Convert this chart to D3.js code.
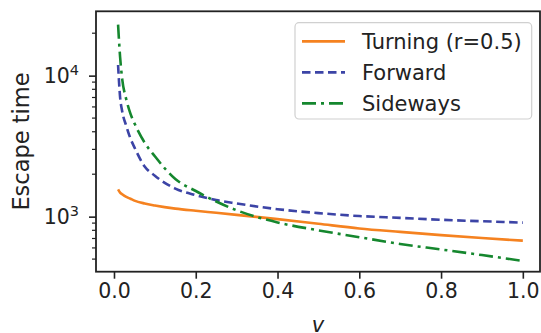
<!DOCTYPE html>
<html>
<head>
<meta charset="utf-8">
<script src="https://cdn.jsdelivr.net/npm/d3@7"></script>
<style>
  body { margin: 0; background: #fff; }
  text { font-family: "DejaVu Sans", sans-serif; fill: #222; }
</style>
</head>
<body>
<script>
// valeurs
const vValues = [0.01, 0.015, 0.02, 0.03, 0.04, 0.05, 0.075, 0.1, 0.15, 0.2, 0.25, 0.3, 0.4, 0.5, 0.6, 0.7, 0.8, 0.9, 1.0];
const turning = [1560, 1480, 1440, 1380, 1340, 1300, 1240, 1200, 1140, 1100, 1065, 1030, 960, 890, 825, 780, 740, 705, 676];
const forward = [11900, 7000, 5600, 4400, 3600, 3100, 2270, 1950, 1580, 1420, 1310, 1240, 1130, 1060, 1010, 980, 950, 928, 907];
const sideways = [23000, 13500, 9500, 6800, 5400, 4600, 3350, 2680, 1850, 1520, 1280, 1110, 910, 800, 715, 640, 585, 534, 485];
const seriesNames = ["Turning (r=0.5)", "Forward", "Sideways"];
const xTicks = [0.0, 0.2, 0.4, 0.6, 0.8, 1.0];
const yMajor = [1000, 10000];

const width = 541, height = 333;
const svg = d3.select("body").append("svg").attr("width", width).attr("height", height);

const x = d3.scaleLinear().domain([-0.044, 1.042]).range([96, 540]);
const y = d3.scaleLog().domain([407, 28600]).range([271.7, 11.3]);

const series = [
  { name: seriesNames[0], values: turning, color: "#f58220", dash: null },
  { name: seriesNames[1], values: forward, color: "#3c44a6", dash: "8.5,4.5" },
  { name: seriesNames[2], values: sideways, color: "#15872e", dash: "14,5,3,5" }
];

svg.append("clipPath").attr("id", "clip")
  .append("rect").attr("x", 96).attr("y", 11.3).attr("width", 444).attr("height", 260.4);

const line = d3.line()
  .x((d, i) => x(vValues[i]))
  .y(d => y(d))
  .curve(d3.curveMonotoneX);

const plot = svg.append("g").attr("clip-path", "url(#clip)");
series.forEach(s => {
  plot.append("path")
    .attr("d", line(s.values))
    .attr("fill", "none")
    .attr("stroke", s.color)
    .attr("stroke-width", 2.6)
    .attr("stroke-dasharray", s.dash);
});

// axe x
const xAxis = svg.append("g").attr("transform", "translate(0,271.7)")
  .call(d3.axisBottom(x).tickValues(xTicks).tickFormat(d3.format(".1f")).tickSize(7).tickPadding(5));
xAxis.select(".domain").remove();
xAxis.selectAll("line").attr("stroke", "#222").attr("stroke-width", 1.6);
xAxis.selectAll("text").attr("font-size", "20.5px").attr("fill", "#222");

// axe y (log) : graduations mineures
const yMinor = [];
[100, 1000, 10000].forEach(base => {
  for (let k = 2; k <= 9; k++) {
    const v = base * k;
    if (v > 407 && v < 28600) yMinor.push(v);
  }
});
svg.append("g").selectAll("line").data(yMinor).join("line")
  .attr("x1", 96).attr("x2", 92)
  .attr("y1", d => y(d)).attr("y2", d => y(d))
  .attr("stroke", "#222").attr("stroke-width", 1.2);

const yAxis = svg.append("g").attr("transform", "translate(96,0)")
  .call(d3.axisLeft(y).tickValues(yMajor).tickFormat("").tickSize(7));
yAxis.select(".domain").remove();
yAxis.selectAll("line").attr("stroke", "#222").attr("stroke-width", 1.6);

const yLabels = svg.append("g").selectAll("text").data(yMajor).join("text")
  .attr("x", 79)
  .attr("y", d => y(d) + 7.5)
  .attr("text-anchor", "end")
  .attr("font-size", "20.5px");
yLabels.append("tspan").text("10");
yLabels.append("tspan").attr("dy", -8.5).attr("font-size", "14.5px").text(d => Math.round(Math.log10(d)));

// cadre
svg.append("rect")
  .attr("x", 96).attr("y", 11.3).attr("width", 444).attr("height", 260.4)
  .attr("fill", "none").attr("stroke", "#222").attr("stroke-width", 1.8);

// titres des axes
svg.append("text")
  .attr("transform", "translate(29,141.5) rotate(-90)")
  .attr("text-anchor", "middle")
  .attr("font-size", "22.5px")
  .text("Escape time");

svg.append("text")
  .attr("x", 318).attr("y", 332)
  .attr("text-anchor", "middle")
  .attr("font-size", "21px")
  .attr("font-style", "italic")
  .text("v");

// légende
const legend = svg.append("g");
legend.append("rect")
  .attr("x", 295).attr("y", 22.7).attr("width", 236.7).attr("height", 96.3)
  .attr("rx", 4)
  .attr("fill", "white").attr("fill-opacity", 0.85)
  .attr("stroke", "#d0d0d0").attr("stroke-width", 1.2);

series.forEach((s, i) => {
  const cy = 41.4 + i * 31;
  legend.append("line")
    .attr("x1", 302).attr("x2", 345).attr("y1", cy).attr("y2", cy)
    .attr("stroke", s.color).attr("stroke-width", 2.6)
    .attr("stroke-dasharray", s.dash);
  legend.append("text")
    .attr("x", 362).attr("y", cy + 7.5)
    .attr("font-size", "21px")
    .text(s.name);
});
</script>
</body>
</html>
